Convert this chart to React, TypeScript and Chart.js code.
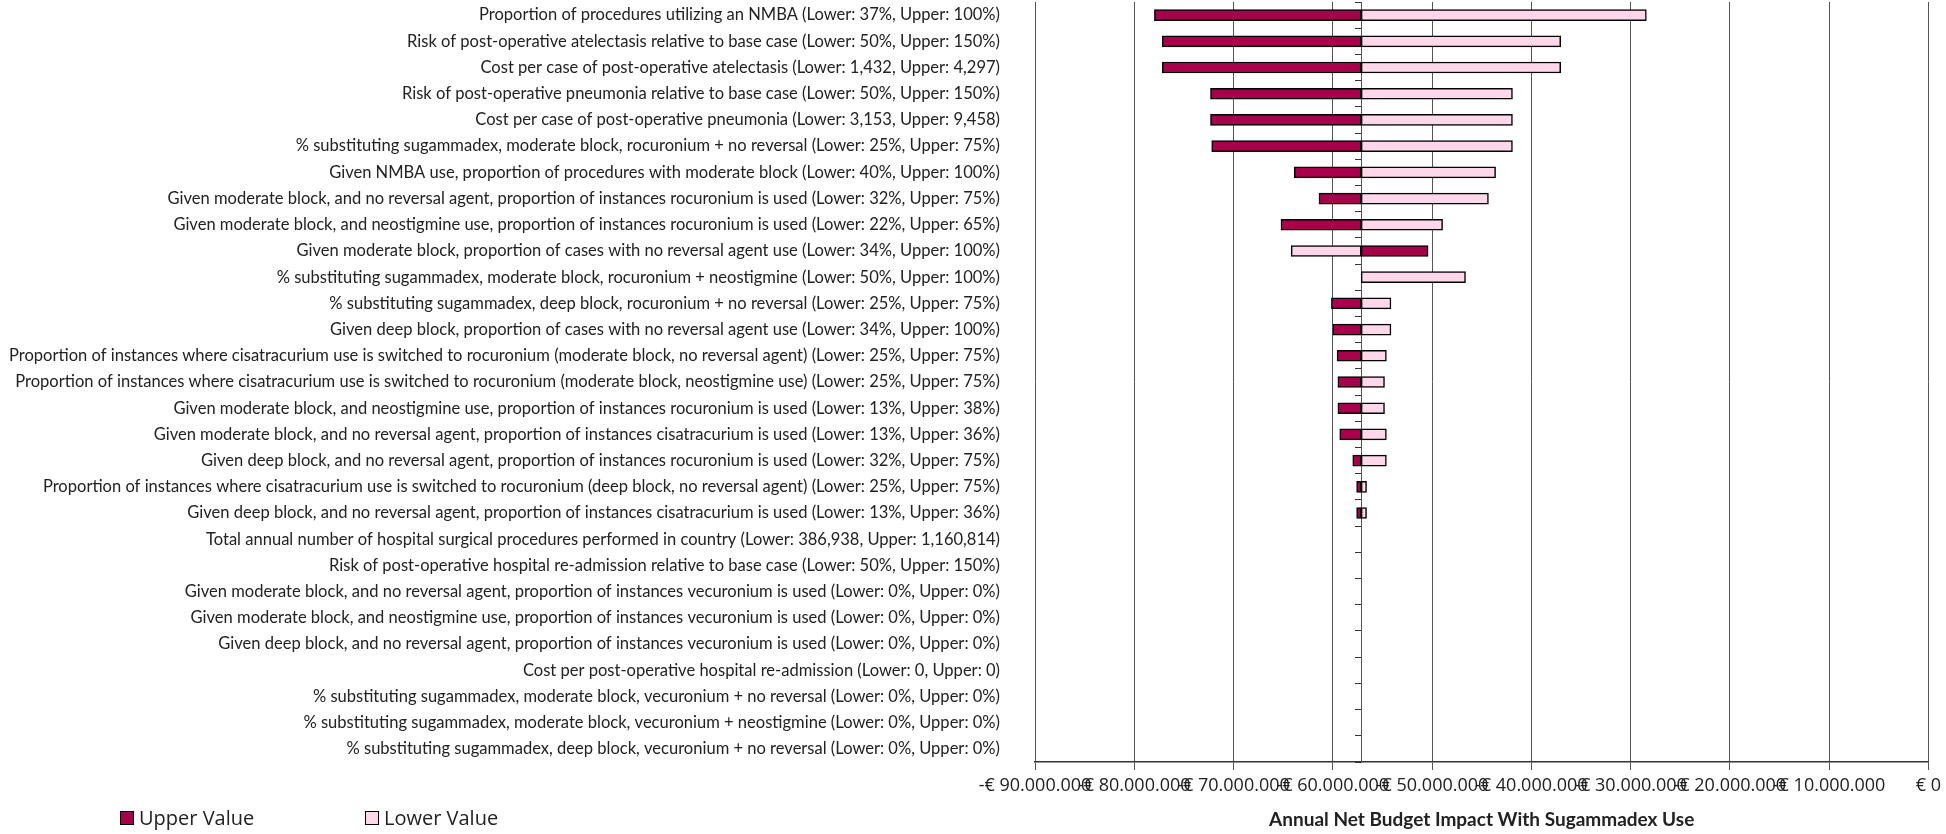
import React, { useEffect, useRef } from "react";
import { Chart, registerables } from "chart.js";

Chart.register(...registerables);

const categories: string[] = [
  "Proportion of procedures utilizing an NMBA (Lower: 37%, Upper: 100%)",
  "Risk of post-operative atelectasis relative to base case (Lower: 50%, Upper: 150%)",
  "Cost per case of post-operative atelectasis (Lower: 1,432, Upper: 4,297)",
  "Risk of post-operative pneumonia relative to base case (Lower: 50%, Upper: 150%)",
  "Cost per case of post-operative pneumonia (Lower: 3,153, Upper: 9,458)",
  "% substituting sugammadex, moderate block, rocuronium + no reversal (Lower: 25%, Upper: 75%)",
  "Given NMBA use, proportion of procedures with moderate block (Lower: 40%, Upper: 100%)",
  "Given moderate block, and no reversal agent, proportion of instances rocuronium is used (Lower: 32%, Upper: 75%)",
  "Given moderate block, and neostigmine use, proportion of instances rocuronium is used (Lower: 22%, Upper: 65%)",
  "Given moderate block, proportion of cases with no reversal agent use (Lower: 34%, Upper: 100%)",
  "% substituting sugammadex, moderate block, rocuronium + neostigmine (Lower: 50%, Upper: 100%)",
  "% substituting sugammadex, deep block, rocuronium + no reversal (Lower: 25%, Upper: 75%)",
  "Given deep block, proportion of cases with no reversal agent use (Lower: 34%, Upper: 100%)",
  "Proportion of instances where cisatracurium use is switched to rocuronium (moderate block, no reversal agent) (Lower: 25%, Upper: 75%)",
  "Proportion of instances where cisatracurium use is switched to rocuronium (moderate block, neostigmine use) (Lower: 25%, Upper: 75%)",
  "Given moderate block, and neostigmine use, proportion of instances rocuronium is used (Lower: 13%, Upper: 38%)",
  "Given moderate block, and no reversal agent, proportion of instances cisatracurium is used (Lower: 13%, Upper: 36%)",
  "Given deep block, and no reversal agent, proportion of instances rocuronium is used (Lower: 32%, Upper: 75%)",
  "Proportion of instances where cisatracurium use is switched to rocuronium (deep block, no reversal agent) (Lower: 25%, Upper: 75%)",
  "Given deep block, and no reversal agent, proportion of instances cisatracurium is used (Lower: 13%, Upper: 36%)",
  "Total annual number of hospital surgical procedures performed in country (Lower: 386,938, Upper: 1,160,814)",
  "Risk of post-operative hospital re-admission relative to base case (Lower: 50%, Upper: 150%)",
  "Given moderate block, and no reversal agent, proportion of instances vecuronium is used (Lower: 0%, Upper: 0%)",
  "Given moderate block, and neostigmine use, proportion of instances vecuronium is used (Lower: 0%, Upper: 0%)",
  "Given deep block, and no reversal agent, proportion of instances vecuronium is used (Lower: 0%, Upper: 0%)",
  "Cost per post-operative hospital re-admission (Lower: 0, Upper: 0)",
  "% substituting sugammadex, moderate block, vecuronium + no reversal (Lower: 0%, Upper: 0%)",
  "% substituting sugammadex, moderate block, vecuronium + neostigmine (Lower: 0%, Upper: 0%)",
  "% substituting sugammadex, deep block, vecuronium + no reversal (Lower: 0%, Upper: 0%)",
];

// Base-case annual net budget impact (EUR)
const baseCase = -57140000;

// Result with parameter at its upper value (EUR)
const upperValues: number[] = [
  -77970000, -77180000, -77180000, -72320000, -72320000, -72200000,
  -63880000, -61390000, -65220000, -50400000, -57140000, -60140000,
  -59990000, -59570000, -59490000, -59490000, -59300000, -57990000,
  -57600000, -57600000, -57140000, -57140000, -57140000, -57140000,
  -57140000, -57140000, -57140000, -57140000, -57140000,
];

// Result with parameter at its lower value (EUR)
const lowerValues: number[] = [
  -28410000, -37040000, -37040000, -41900000, -41900000, -41900000,
  -43600000, -44320000, -48940000, -64190000, -46630000, -54140000,
  -54140000, -54600000, -54790000, -54790000, -54600000, -54600000,
  -56600000, -56600000, -57140000, -57140000, -57140000, -57140000,
  -57140000, -57140000, -57140000, -57140000, -57140000,
];

const xTickValues: number[] = [
  -90000000, -80000000, -70000000, -60000000, -50000000, -40000000,
  -30000000, -20000000, -10000000, 0,
];

const seriesNames: string[] = ["Upper Value", "Lower Value"];
const seriesColors: string[] = ["#A8004B", "#FFD7EA"];
const axisTitle = "Annual Net Budget Impact With Sugammadex Use";

function fmtEuro(v: number): string {
  if (v === 0) return "€ 0";
  const s = Math.abs(v)
    .toString()
    .replace(/\B(?=(\d{3})+(?!\d))/g, ".");
  return (v < 0 ? "-€ " : "€ ") + s;
}

const TEXT = "#222222";
const GRID = "#555555";

export default function App() {
  const canvasRef = useRef<HTMLCanvasElement | null>(null);

  useEffect(() => {
    const canvas = canvasRef.current;
    if (!canvas) return;
    const barStyle = {
      borderColor: "#000000",
      borderWidth: 1.5,
      borderSkipped: false,
      grouped: false,
      barThickness: 11,
      xAxisID: "x",
      yAxisID: "y",
    };
    const chart = new Chart(canvas, {
      type: "bar",
      data: {
        labels: categories,
        datasets: [
          {
            label: seriesNames[0],
            data: upperValues.map((v) => [baseCase, v]) as any,
            backgroundColor: seriesColors[0],
            ...barStyle,
          } as any,
          {
            label: seriesNames[1],
            data: lowerValues.map((v) => [baseCase, v]) as any,
            backgroundColor: seriesColors[1],
            ...barStyle,
          } as any,
        ],
      },
      options: {
        indexAxis: "y",
        animation: false,
        responsive: false,
        layout: { padding: { top: 2, right: 17, left: 0, bottom: 0 } },
        plugins: {
          legend: { display: false },
          tooltip: { enabled: false },
        },
        scales: {
          x: {
            type: "linear",
            position: "bottom",
            min: xTickValues[0],
            max: xTickValues[xTickValues.length - 1],
            afterBuildTicks: (s: any) => {
              s.ticks = xTickValues.map((v) => ({ value: v }));
            },
            ticks: {
              callback: (v: any) => fmtEuro(Number(v)),
              autoSkip: false,
              maxRotation: 0,
              minRotation: 0,
              padding: 5,
              color: TEXT,
              font: { family: "'Open Sans', sans-serif", size: 18 },
            },
            grid: { color: GRID, lineWidth: 1, tickLength: 8, drawTicks: true },
            border: { color: "#333333", width: 1.5 },
            title: {
              display: true,
              text: axisTitle,
              color: TEXT,
              font: { family: "Lato, sans-serif", size: 19, weight: "bold" },
              padding: { top: 0, bottom: 3 },
            },
            afterFit: (s: any) => {
              s.height = 72;
            },
          } as any,
          y: {
            type: "category",
            position: "left",
            offset: true,
            grid: { display: false, drawTicks: false },
            border: { display: false },
            ticks: {
              padding: 35,
              autoSkip: false,
              color: TEXT,
              font: { family: "Lato, sans-serif", size: 16.55 },
            },
            afterFit: (s: any) => {
              s.width = 1035;
              s.paddingTop = 0;
              s.paddingBottom = 0;
            },
          } as any,
          y2: {
            type: "category",
            position: { x: baseCase },
            offset: true,
            grid: {
              offset: true,
              drawOnChartArea: false,
              drawTicks: true,
              tickLength: 6,
              color: "#333333",
            },
            border: { display: true, color: GRID, width: 1 },
            ticks: { display: false },
            afterFit: (s: any) => {
              s.paddingTop = 0;
              s.paddingBottom = 0;
            },
          } as any,
        },
      },
    });
    return () => chart.destroy();
  }, []);

  const legendText: React.CSSProperties = {
    position: "absolute",
    top: 804,
    fontFamily: "'Open Sans', sans-serif",
    fontSize: 20,
    color: TEXT,
    lineHeight: "28px",
    whiteSpace: "nowrap",
  };
  const box = (c: string, left: number): React.CSSProperties => ({
    position: "absolute",
    left,
    top: 811,
    width: 12,
    height: 12,
    background: c,
    border: "1.5px solid #000",
  });

  return (
    <div style={{ position: "absolute", left: 0, top: 0, width: 1946, height: 834, background: "#fff" }}>
      <canvas ref={canvasRef} width={1946} height={834} style={{ display: "block" }} />
      <div style={box(seriesColors[0], 120)} />
      <div style={{ ...legendText, left: 139 }}>{seriesNames[0]}</div>
      <div style={box(seriesColors[1], 365)} />
      <div style={{ ...legendText, left: 384 }}>{seriesNames[1]}</div>
    </div>
  );
}
